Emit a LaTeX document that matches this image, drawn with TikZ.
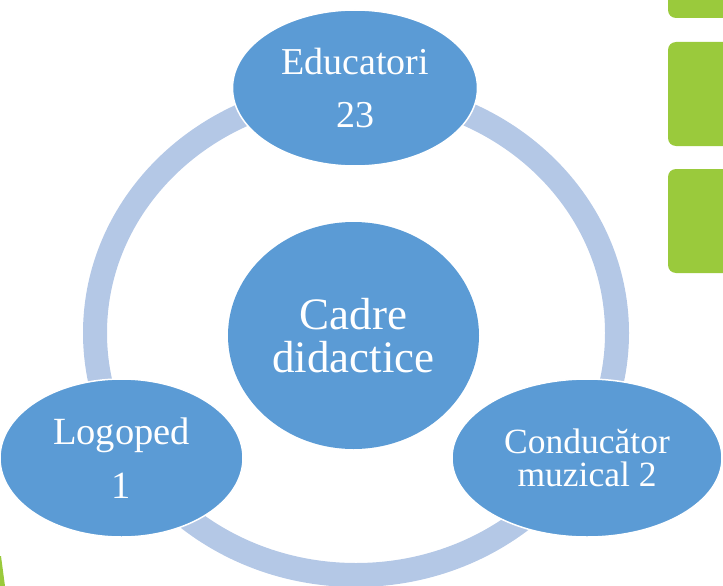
\documentclass[tikz,border=0pt]{standalone}
\usepackage{fontspec}
\setmainfont{Liberation Serif}
\usetikzlibrary{shapes.geometric}
\definecolor{nodeblue}{HTML}{5B9BD5}
\definecolor{ringblue}{HTML}{B4C8E6}
\definecolor{accgreen}{HTML}{9ACA3C}
\tikzset{
  bubble/.style={ellipse, fill=nodeblue, draw=white, line width=1.5pt,
    inner sep=0pt, text=white, align=center},
  greenbox/.style={fill=accgreen, rounded corners=8pt}
}
\begin{document}
\begin{tikzpicture}[x=1pt,y=-1pt]
\useasboundingbox (0,0) rectangle (723,586);
% ring
\draw[ringblue, line width=24pt] (356,333) ellipse [x radius=261pt, y radius=242pt];
% green decorations
\fill[greenbox] (668,-20) rectangle (740,18);
\fill[greenbox] (668,42) rectangle (740,146);
\fill[greenbox] (668,169) rectangle (740,273);
\fill[accgreen] (0,556) -- (1,556) -- (5,586) -- (0,586) -- cycle;
% centre
\node[bubble, draw=none, minimum width=251pt, minimum height=227pt,
  font={\fontsize{45}{43}\selectfont}] (centre) at (353.5,335.5) {Cadre\\didactice};
% outer nodes
\node[bubble, minimum width=245pt, minimum height=156pt,
  font={\fontsize{38}{53}\selectfont}] (edu) at (355,88) {Educatori\\23};
\node[bubble, minimum width=243pt, minimum height=158pt,
  font={\fontsize{38.5}{54}\selectfont}] (logo) at (121.5,458) {Logoped\\1};
\node[bubble, minimum width=270pt, minimum height=158pt,
  font={\fontsize{35.5}{33}\selectfont}] (cond) at (587,458) {Conducător\\muzical 2};
\end{tikzpicture}
\end{document}
